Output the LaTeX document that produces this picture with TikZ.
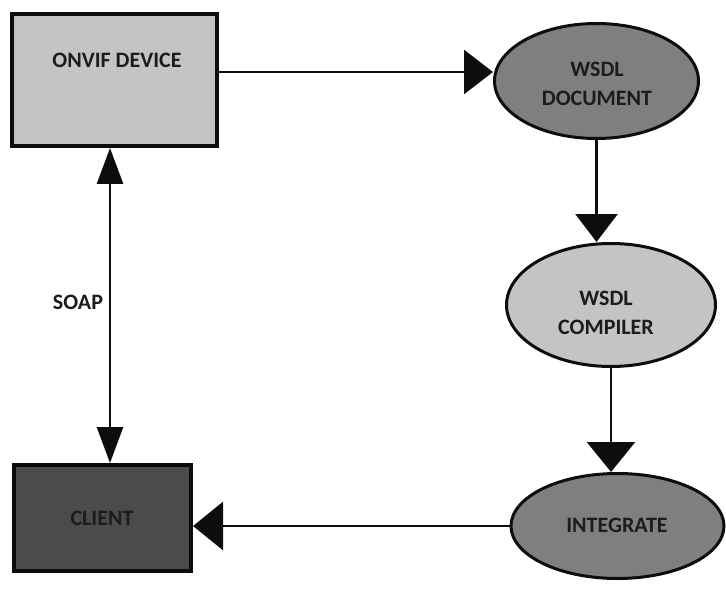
\documentclass[tikz,border=0pt]{standalone}
\usepackage{fontspec}
\setmainfont{Carlito}
\usetikzlibrary{arrows.meta,shapes.geometric}

\definecolor{lightfill}{HTML}{C4C4C4}
\definecolor{midfill}{HTML}{7F7F7F}
\definecolor{darkfill}{HTML}{4B4B4B}
\definecolor{edge}{HTML}{0D0D0D}
\definecolor{ink}{HTML}{1C1C1C}

\tikzset{
  x=1pt, y=-1pt,
  box/.style={draw=edge, line width=4pt, rectangle, inner sep=0pt},
  oval/.style={draw=edge, line width=3pt, ellipse, inner sep=0pt},
  caption/.style={text=ink, font=\bfseries\fontsize{22}{29}\selectfont, align=center, inner sep=0pt},
  conn/.style={draw=edge, line width=2.7pt},
}

\begin{document}
\begin{tikzpicture}
  \fill[white] (0,0) rectangle (726,591);
  \useasboundingbox (0,0) rectangle (726,591);

  % boxes
  \node[box, fill=lightfill, minimum width=205pt, minimum height=132pt] (onvif) at (114.5,80) {};
  \node[caption] (onviftext) at (117,60) {ONVIF DEVICE};

  \node[box, fill=darkfill, minimum width=177pt, minimum height=106pt] (client) at (102.5,518) {};
  \node[caption] (clienttext) at (102,518) {CLIENT};

  % ovals
  \node[oval, fill=midfill, minimum width=204pt, minimum height=115pt] (doc) at (596.5,81) {};
  \node[caption] (doctext) at (597,84) {WSDL\\DOCUMENT};

  \node[oval, fill=lightfill, minimum width=209pt, minimum height=123pt] (compiler) at (611,305) {};
  \node[caption] (compilertext) at (606,313) {WSDL\\COMPILER};

  \node[oval, fill=midfill, minimum width=213pt, minimum height=105pt] (integrate) at (617.5,526) {};
  \node[caption] (integratetext) at (617,525) {INTEGRATE};

  % connectors
  \coordinate (toprow) at (0,72);
  \coordinate (soapx) at (110,0);

  \draw[conn, -{Triangle[length=29pt,width=44pt]}]
    (onvif.east |- toprow) -- (doc.west |- toprow);
  \draw[conn, -{Triangle[length=28pt,width=42pt]}]
    (doc.south) -- (doc.south |- compiler.north);
  \draw[conn, -{Triangle[length=30pt,width=48pt]}]
    (compiler.south) -- (compiler.south |- integrate.north);
  \draw[conn, -{Triangle[length=30pt,width=48pt]}]
    (integrate.west) -- (integrate.west -| client.east);
  \draw[conn, {Triangle[length=36pt,width=26pt]}-{Triangle[length=36pt,width=26pt]}]
    (soapx |- onvif.south) -- (soapx |- client.north);

  \node[caption] (soap) at (78,302) {SOAP};
\end{tikzpicture}
\end{document}
